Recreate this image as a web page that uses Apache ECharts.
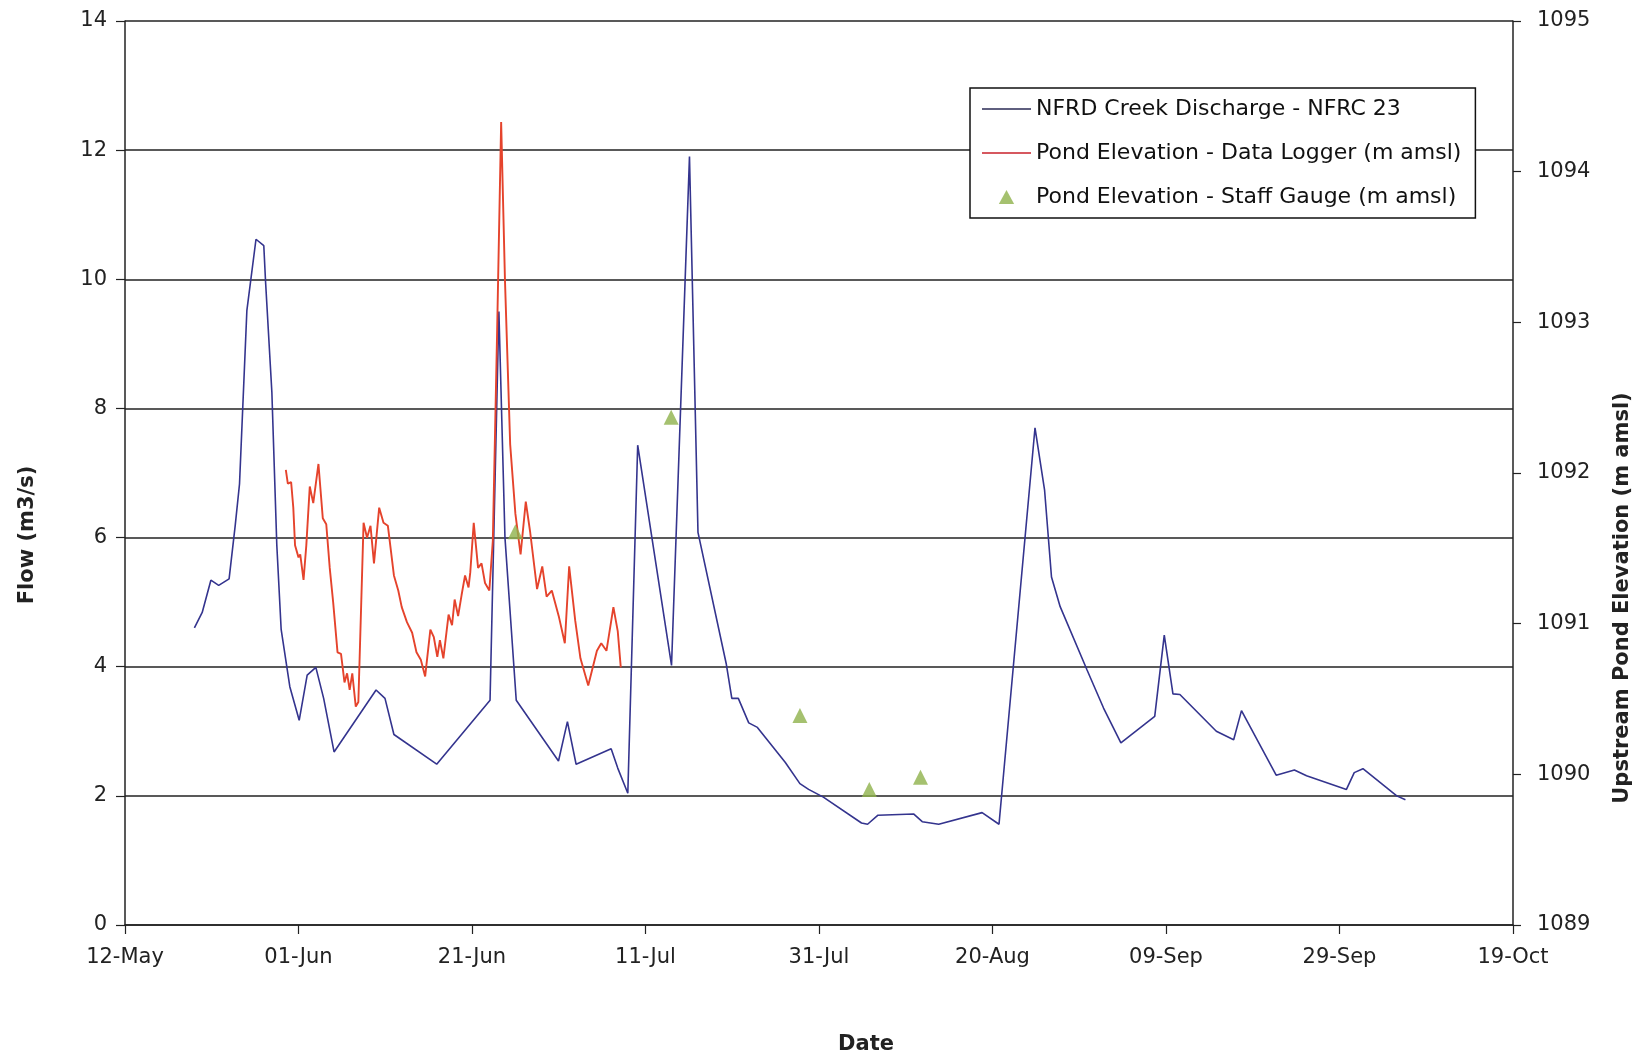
<!DOCTYPE html>
<html><head><meta charset="utf-8">
<script src="https://cdn.jsdelivr.net/npm/echarts@6/dist/echarts.min.js"></script>
<style>html,body{margin:0;padding:0;background:#fff}#c{width:1644px;height:1060px}</style>
</head><body><div id="c"></div>
<script>
// x values are days since 12-May
const tickLabels = ['12-May','01-Jun','21-Jun','11-Jul','31-Jul','20-Aug','09-Sep','29-Sep','19-Oct'];

const flowDays = [8.0, 8.9, 9.9, 10.8, 12.0, 12.7, 13.2, 14.05, 15.1, 16.0, 16.2, 16.93, 17.5, 18.0, 19.0, 20.08, 21.0, 22.0, 22.9, 24.1, 28.94, 29.97, 31.0, 35.93, 42.08, 43.1, 43.8, 45.1, 49.97, 51.0, 52.0, 56.04, 56.8, 57.96, 59.1, 63.0, 65.07, 66.05, 69.3, 69.95, 70.7, 71.9, 72.9, 76.1, 77.8, 78.8, 80.5, 84.9, 85.6, 86.8, 90.9, 91.9, 93.8, 98.8, 100.75, 104.9, 106.0, 106.8, 107.8, 110.9, 112.8, 114.8, 118.7, 119.8, 120.8, 121.6, 125.8, 127.8, 128.7, 132.7, 134.8, 136.2, 140.8, 141.7, 142.7, 146.6, 147.6];
const flowValues = [4.60, 4.84, 5.34, 5.26, 5.36, 6.18, 6.83, 9.52, 10.62, 10.52, 9.97, 8.25, 5.88, 4.58, 3.69, 3.17, 3.87, 3.99, 3.51, 2.68, 3.64, 3.51, 2.95, 2.49, 3.48, 9.50, 6.0, 3.48, 2.54, 3.15, 2.49, 2.73, 2.43, 2.04, 7.43, 4.02, 11.9, 6.08, 4.05, 3.51, 3.51, 3.13, 3.06, 2.52, 2.19, 2.10, 1.98, 1.58, 1.56, 1.70, 1.72, 1.60, 1.56, 1.74, 1.56, 7.70, 6.74, 5.39, 4.93, 3.95, 3.36, 2.82, 3.23, 4.49, 3.58, 3.57, 3.00, 2.87, 3.32, 2.32, 2.40, 2.31, 2.10, 2.36, 2.42, 2.00, 1.94];

const loggerDays = [18.54, 18.77, 19.15, 19.4, 19.6, 20.0, 20.2, 20.58, 20.9, 21.3, 21.7, 22.3, 22.8, 23.2, 23.6, 24.0, 24.5, 24.9, 25.3, 25.6, 25.9, 26.2, 26.6, 26.9, 27.5, 27.9, 28.3, 28.7, 29.3, 29.8, 30.3, 31.0, 31.5, 31.9, 32.5, 33.1, 33.6, 34.1, 34.6, 35.2, 35.6, 36.0, 36.3, 36.7, 37.3, 37.7, 38.0, 38.4, 38.8, 39.2, 39.6, 39.8, 40.2, 40.7, 41.1, 41.5, 42.0, 42.4, 42.9, 43.36, 43.8, 44.4, 45.0, 45.6, 46.2, 46.7, 47.5, 48.1, 48.6, 49.2, 50.0, 50.7, 51.2, 51.9, 52.5, 53.4, 54.4, 54.9, 55.5, 56.3, 56.8, 57.15];
const loggerElev = [1092.02, 1091.93, 1091.94, 1091.77, 1091.52, 1091.44, 1091.46, 1091.29, 1091.52, 1091.91, 1091.80, 1092.06, 1091.70, 1091.66, 1091.37, 1091.14, 1090.81, 1090.80, 1090.61, 1090.67, 1090.56, 1090.67, 1090.45, 1090.48, 1091.67, 1091.57, 1091.65, 1091.40, 1091.77, 1091.67, 1091.65, 1091.32, 1091.22, 1091.11, 1091.01, 1090.94, 1090.81, 1090.76, 1090.65, 1090.96, 1090.91, 1090.78, 1090.89, 1090.77, 1091.06, 1090.99, 1091.16, 1091.05, 1091.19, 1091.32, 1091.24, 1091.34, 1091.67, 1091.37, 1091.40, 1091.27, 1091.22, 1091.55, 1092.95, 1094.33, 1093.28, 1092.19, 1091.73, 1091.46, 1091.81, 1091.61, 1091.23, 1091.38, 1091.18, 1091.22, 1091.05, 1090.87, 1091.38, 1091.02, 1090.77, 1090.59, 1090.82, 1090.87, 1090.82, 1091.11, 1090.95, 1090.71];

const gaugeDays = [45.0, 62.96, 77.8, 85.8, 91.7];
const gaugeElev = [1091.61, 1092.37, 1090.39, 1089.90, 1089.98];

const seriesNames = ['NFRD Creek Discharge - NFRC 23', 'Pond Elevation - Data Logger (m amsl)', 'Pond Elevation - Staff Gauge (m amsl)'];
const axisTitles = {x: 'Date', yLeft: 'Flow (m3/s)', yRight: 'Upstream Pond Elevation (m amsl)'};

const FONT = 'DejaVu Sans';
const zip = (a, b) => a.map((v, i) => [v, b[i]]);
const LINE_ICON = 'path://M0,0 L49,0 L49,1.6 L0,1.6 Z';
const TRI_ICON = 'path://M6,0 L12,11 L0,11 Z';

const chart = echarts.init(document.getElementById('c'), null, {renderer: 'canvas'});
chart.setOption({
  animation: false,
  backgroundColor: '#ffffff',
  grid: {left: 125, right: 131, top: 21, bottom: 135, containLabel: false},
  legend: {
    orient: 'vertical', left: 970, top: 88,
    backgroundColor: '#ffffff', borderColor: '#111', borderWidth: 1.5,
    padding: [10, 14, 10, 12], itemGap: 22, itemWidth: 49, itemHeight: 14,
    symbolKeepAspect: true,
    textStyle: {fontFamily: FONT, fontSize: 22, color: '#111'},
    data: [
      {name: seriesNames[0], icon: LINE_ICON, itemStyle: {color: '#2a2a55'}},
      {name: seriesNames[1], icon: LINE_ICON, itemStyle: {color: '#c8202a'}},
      {name: seriesNames[2], icon: TRI_ICON}
    ]
  },
  xAxis: {
    type: 'value', min: 0, max: 160, interval: 20,
    axisLine: {show: true, lineStyle: {color: '#222', width: 1.5}},
    axisTick: {show: true, length: 9, lineStyle: {color: '#222', width: 1.2}},
    splitLine: {show: false},
    axisLabel: {margin: 22, fontFamily: FONT, fontSize: 21, color: '#222',
      formatter: v => tickLabels[Math.round(v / 20)]}
  },
  yAxis: [
    {
      type: 'value', min: 0, max: 14, interval: 2, position: 'left',
      axisLine: {show: true, lineStyle: {color: '#222', width: 1.5}},
      axisTick: {show: true, length: 9, lineStyle: {color: '#222', width: 1.2}},
      splitLine: {show: true, lineStyle: {color: '#222', width: 1.5}},
      axisLabel: {margin: 18, fontFamily: FONT, fontSize: 21, color: '#222'}
    },
    {
      type: 'value', min: 1089, max: 1095, interval: 1, position: 'right',
      axisLine: {show: true, lineStyle: {color: '#222', width: 1.5}},
      axisTick: {show: true, length: 8, lineStyle: {color: '#222', width: 1.2}},
      splitLine: {show: false},
      axisLabel: {margin: 24, fontFamily: FONT, fontSize: 21, color: '#222',
        formatter: v => String(v)}
    }
  ],
  graphic: [
    {type: 'text', x: 28, y: 535, rotation: Math.PI / 2,
      style: {text: axisTitles.yLeft, font: 'bold 21px "DejaVu Sans"', fill: '#222', textAlign: 'center', textVerticalAlign: 'middle'}},
    {type: 'text', x: 1623, y: 598, rotation: Math.PI / 2,
      style: {text: axisTitles.yRight, font: 'bold 21px "DejaVu Sans"', fill: '#222', textAlign: 'center', textVerticalAlign: 'middle'}},
    {type: 'text', x: 866, y: 1045,
      style: {text: axisTitles.x, font: 'bold 21px "DejaVu Sans"', fill: '#222', textAlign: 'center', textVerticalAlign: 'middle'}}
  ],
  series: [
    {
      name: seriesNames[0], type: 'line', yAxisIndex: 0, symbol: 'none',
      data: zip(flowDays, flowValues),
      lineStyle: {color: '#34348e', width: 1.6}, itemStyle: {color: '#34348e'}, z: 3
    },
    {
      name: seriesNames[1], type: 'line', yAxisIndex: 1, symbol: 'none',
      data: zip(loggerDays, loggerElev),
      lineStyle: {color: '#e5432c', width: 1.9}, itemStyle: {color: '#e5432c'}, z: 4
    },
    {
      name: seriesNames[2], type: 'scatter', yAxisIndex: 1, symbol: 'triangle', symbolSize: 15,
      data: zip(gaugeDays, gaugeElev),
      itemStyle: {color: '#8fb14b'}, z: 5
    }
  ]
});
</script>
</body></html>
